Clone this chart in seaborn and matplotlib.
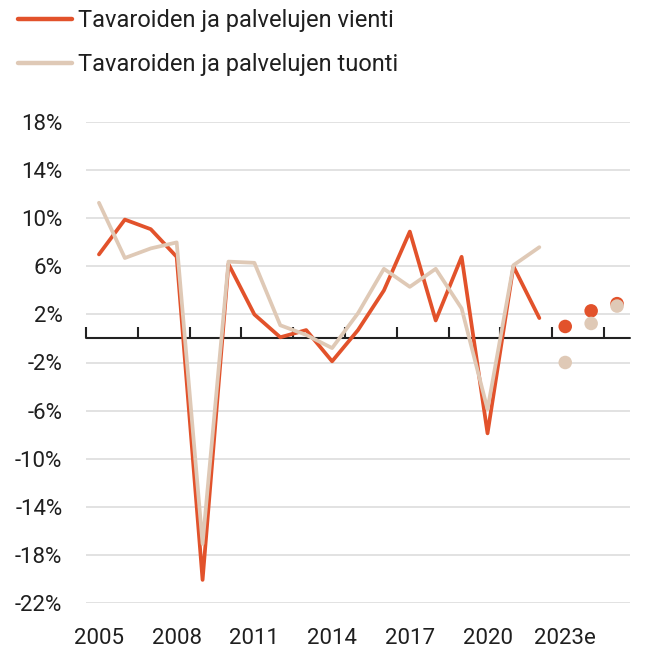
import matplotlib
matplotlib.use("Agg")
import matplotlib.pyplot as plt
import seaborn as sns
import pandas as pd
import numpy as np

years = list(range(2005, 2023))
vienti = [7.0, 9.9, 9.1, 6.8, -20.1, 6.2, 2.0, 0.1, 0.7, -1.9, 0.7, 4.0, 8.9, 1.5, 6.8, -7.9, 6.0, 1.7]
tuonti = [11.3, 6.7, 7.5, 8.0, -17.1, 6.4, 6.3, 1.1, 0.3, -0.8, 2.1, 5.8, 4.3, 5.8, 2.5, -5.9, 6.1, 7.6]
ennuste_vuodet = [2023, 2024, 2025]
vienti_ennuste = [1.0, 2.3, 2.9]
tuonti_ennuste = [-2.0, 1.25, 2.7]
tick_years = [2005, 2008, 2011, 2014, 2017, 2020, 2023]
tick_labels = ["2005", "2008", "2011", "2014", "2017", "2020", "2023e"]
y_ticks = [-22, -18, -14, -10, -6, -2, 2, 6, 10, 14, 18]
label_v = "Tavaroiden ja palvelujen vienti"
label_t = "Tavaroiden ja palvelujen tuonti"

ORANGE = "#E2522B"
BEIGE = "#DFC9B6"
TXT = "#1f1f1f"

sns.set_theme(style="white")
plt.rcParams["font.family"] = ["Roboto", "DejaVu Sans"]

fig = plt.figure(figsize=(6.51, 6.54), dpi=100)
ax = fig.add_axes([86 / 651, 51.3 / 654, 544 / 651, 480.4 / 654])

df = pd.DataFrame({"year": years, "vienti": vienti, "tuonti": tuonti})
dfe = pd.DataFrame({"year": ennuste_vuodet, "vienti": vienti_ennuste, "tuonti": tuonti_ennuste})

sns.lineplot(data=df, x="year", y="vienti", ax=ax, color=ORANGE, lw=2.7, label=label_v, zorder=3)
sns.lineplot(data=df, x="year", y="tuonti", ax=ax, color=BEIGE, lw=2.7, label=label_t, zorder=4)
sns.scatterplot(data=dfe, x="year", y="vienti", ax=ax, color=ORANGE, s=95, edgecolor="none", zorder=5)
sns.scatterplot(data=dfe, x="year", y="tuonti", ax=ax, color=BEIGE, s=95, edgecolor="none", zorder=6)

ax.set_xlim(2004.5, 2025.5)
ax.set_ylim(-22, 18)
ax.set_yticks(y_ticks)
ax.set_yticklabels([f"{v}%" for v in y_ticks], fontsize=16, color=TXT)
ax.set_xticks(tick_years)
ax.set_xticklabels(tick_labels, fontsize=16, color=TXT)
ax.tick_params(axis="y", length=0, pad=17)
ax.tick_params(axis="x", length=0, pad=18)
ax.set_xlabel("")
ax.set_ylabel("")
for s in ax.spines.values():
    s.set_visible(False)
ax.yaxis.grid(True, color="#DDDDDD", lw=1.2)
ax.set_axisbelow(True)

# zero axis with ticks at category boundaries
ax.axhline(0, color="#222222", lw=1.5, zorder=2)
sec = ax.secondary_xaxis((0 - (-22)) / 40)
sec.set_xticks(np.arange(2004.5, 2025.5, 2))
sec.set_xticklabels([])
sec.tick_params(axis="x", direction="out", length=8, width=1.5, color="#222222")
sec.spines["bottom"].set_color("#222222")
sec.spines["bottom"].set_linewidth(1.5)

leg = ax.legend(loc="upper left", bbox_to_anchor=(18 / 651, 1 - 9 / 654), bbox_transform=fig.transFigure,
                frameon=False, prop={"size": 17}, handlelength=2.3, handletextpad=0.25,
                labelspacing=0.9, borderaxespad=0, borderpad=0)
for t in leg.get_texts():
    t.set_color(TXT)
for h in leg.get_lines():
    h.set_linewidth(3.2)

fig.savefig("out.png", dpi=100)
